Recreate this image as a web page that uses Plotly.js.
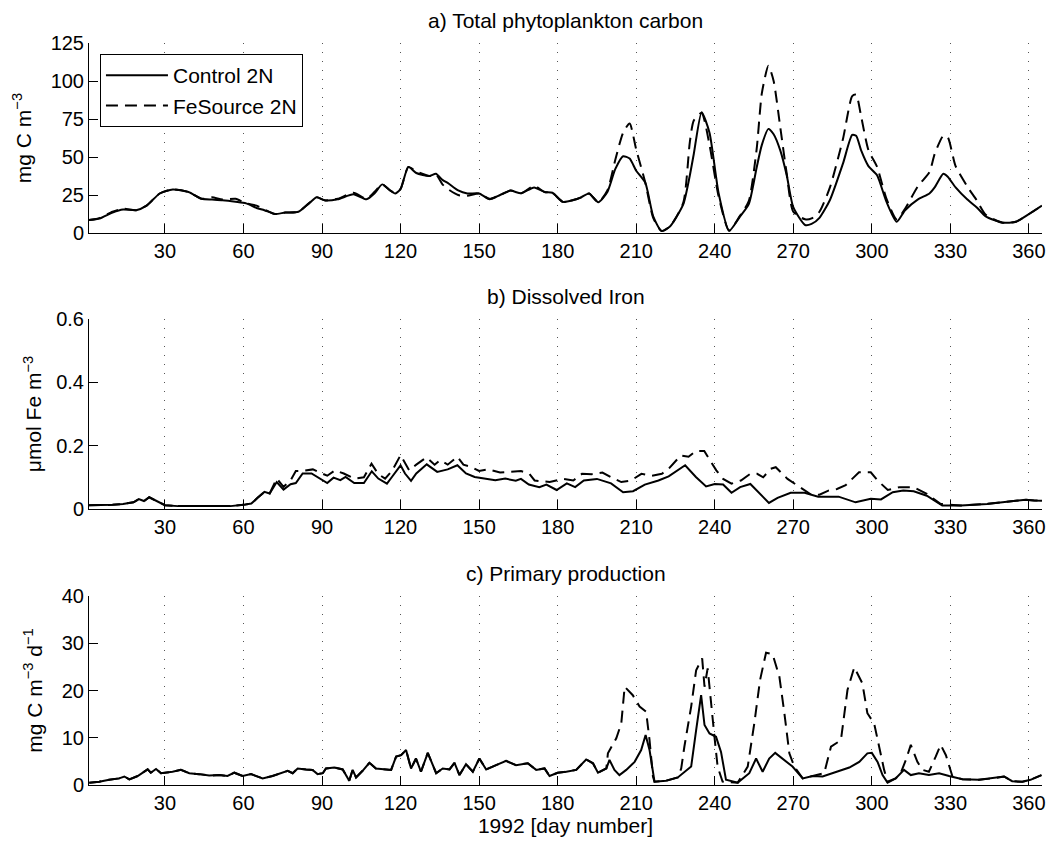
<!DOCTYPE html>
<html>
<head>
<meta charset="utf-8">
<script src="https://cdn.plot.ly/plotly-3.0.1.min.js"></script>
<style>html,body{margin:0;padding:0;background:#fff;}</style>
</head>
<body>
<div id="chart" style="width:1053px;height:845px;"></div>
<script>
// ---------- Panel a: Total phytoplankton carbon (mg C m-3) ----------
const dayA = [1,5,10,14,19,23,28,33,39,44,48,52,57,61,65,68,72,76,81,85,88,91,96,102,107,110,113,116,118,120,123,126,131,133.5,136,138,142,145.5,150,154,158,162,166,171,175,178,182,186,189,192,195.5,199,202,205,207.5,210,213.5,216.5,219.7,223,228,230.5,232,235,238,241.5,245.5,249.5,253,256,258,260.5,262.5,265,267.5,270,274.5,277,280,284,289,292.5,294,296,298.7,302,305.5,309.5,312.7,317.5,322,324,327.3,329,332,336.5,340,343.5,350,355,360.5,365];
const ctrlA = [8.5,9.5,13.5,15.5,15,18,26,28.7,27,22.5,22,21.5,20.5,19.5,16.5,15,12.5,13.5,14,19.5,23.5,21.5,22.2,25.5,22.2,26,32,28,26,29,43.5,39.5,37.5,39,35,33,28,26,26,22.2,25,27.9,26.1,30,27,26.5,20.5,21.7,23.5,26,20.3,27,42,50.5,49,41,33,11,1.3,4.5,19,38,52,79.5,66,26,1.5,10.5,19,43,58,68.5,65,54.5,38,17,5.3,6,10,21.7,45.8,64.5,64,54,44,38,21,7.4,15,22,26,30,39,37,30,22,17,11,6.8,7.4,13,18];
const feA = [8.5,9.8,14,16,15,18,26,28.7,27,22.5,23.5,22,22.5,19.5,18,15.5,12.5,13.5,14,19.5,23.5,21.5,22.5,26.5,22.5,27,32,28,26.5,29,43.5,40.5,37.5,38.5,32,29,25,24.5,26,22.5,25,27.9,26.1,31,27,26.5,20.5,21.7,23.5,26,20.3,28,48,66,72,55,33,10,1.3,4.5,20,60,74,79,58,24,1.5,11,21,55,92,110,100,70,39,14,9,9.6,14,30,62,90,91,76,54.6,43.6,23,9,16,30.5,40,52,64,63,44,30.5,21.7,12,6.8,7.4,13,18];

// ---------- Panel b: Dissolved iron (umol Fe m-3) ----------
const dayBctrl = [1,5,10,14,18,20,22,24,27,30,35,45,55,60,63,65.5,68,70,72.7,75.3,78,80,82.6,86,90,92,94.4,97,99,102.3,106,109,111.5,114.8,116.7,120,121.7,124,126,130,134,138,141.7,145,148.3,152.2,156.2,160,164,166,169,173,175.7,179.6,183.5,186.7,190,195,200.4,205,208.8,213.3,218.5,222.4,225.7,228.7,232.8,236.7,240,243.2,246.4,249.7,253.6,256.8,260.7,264,269,274.3,279.5,287.3,293.8,299.6,303.5,308,312,316,321,326.9,334,344,353.5,358.7,362,365];
const ctrlB = [0.012,0.012,0.013,0.016,0.021,0.031,0.025,0.037,0.025,0.012,0.009,0.008,0.009,0.013,0.017,0.036,0.054,0.049,0.085,0.061,0.078,0.082,0.112,0.112,0.091,0.082,0.099,0.091,0.101,0.082,0.082,0.119,0.096,0.080,0.101,0.138,0.112,0.089,0.112,0.141,0.117,0.125,0.138,0.112,0.101,0.096,0.091,0.096,0.089,0.095,0.077,0.069,0.077,0.060,0.081,0.069,0.090,0.095,0.081,0.053,0.056,0.077,0.090,0.103,0.122,0.138,0.101,0.071,0.079,0.077,0.051,0.069,0.079,0.053,0.019,0.035,0.051,0.051,0.039,0.039,0.021,0.032,0.030,0.053,0.058,0.056,0.042,0.011,0.011,0.016,0.024,0.029,0.027,0.026];
// FeSource: identical to control before day 70, then:
const dayBfeTail = [70,72.7,75.3,78,80,82.6,86.5,89.8,92,95,98.3,102.3,106,108.9,111.5,114.1,116.7,120,123.3,126,129.9,133,135.1,138,141.7,144,147,150,153.5,158,162.7,166,169.2,171.2,177,182.2,186,189.3,193,197.1,200.4,204.3,208,212,216,219.8,222.4,227,230,232.8,236,238,240.6,243.2,246.4,250,253.6,256.2,258.5,261.4,263.3,267.8,270.4,274,276.9,280,283.4,286.7,290,292.5,295.1,299.6,302.2,306.1,310.6,315.9,321,326.2,334,344,353.5,358.7,362,365];
const feBTail = [0.049,0.096,0.07,0.09,0.120,0.120,0.125,0.112,0.105,0.122,0.112,0.096,0.1,0.143,0.11,0.096,0.12,0.170,0.122,0.14,0.163,0.14,0.154,0.14,0.165,0.14,0.133,0.12,0.125,0.115,0.117,0.12,0.111,0.090,0.085,0.095,0.09,0.111,0.11,0.115,0.1,0.085,0.09,0.111,0.105,0.111,0.127,0.169,0.165,0.183,0.183,0.156,0.122,0.095,0.08,0.09,0.111,0.111,0.1,0.127,0.132,0.095,0.081,0.06,0.045,0.045,0.058,0.063,0.075,0.095,0.116,0.116,0.090,0.060,0.069,0.069,0.048,0.016,0.011,0.016,0.024,0.029,0.027,0.026];

// ---------- Panel c: Primary production (mg C m-3 d-1) ----------
const dayCctrl = [1.1,4.9,8.7,12.5,14.5,16.4,19.6,22.1,23.4,24.6,26.6,28.5,30.4,32.9,36.1,39.3,43.1,46.9,50.8,53.9,56.5,59.7,62.9,67.3,71.1,74.3,76.9,78.8,80.7,83.9,86.4,88.3,90.3,91.5,94.7,97.9,99.2,100.4,101.7,103,105.5,108.1,110.6,114.5,116.4,118.3,120.2,122.1,124,125.9,127.8,130.4,133.6,136.1,138.7,140.6,142.5,145,147.6,150.1,152.7,156.5,160.3,164.1,168.6,171.8,175,176.9,180,183.3,187.1,190.9,193.5,195.4,198.6,199.8,201.7,203.6,206.2,209.4,211.9,213.6,215.1,217,221.4,225.9,227.8,231,232.9,234.8,236.1,238,240.5,242.4,244.3,248.8,253.2,255.8,258.3,260.8,263.1,265.9,269.7,273.6,277.4,281.2,286.3,291.4,295.2,298.3,300,302.2,304.1,306,309.1,312.3,314.9,318,321.8,325.7,329.5,334.6,340.9,346,350.5,353.6,357.5,360.6,364.8];
const ctrlC = [0.5,0.7,1.1,1.4,1.8,1.2,1.9,2.8,3.3,2.6,3.4,2.5,2.6,2.8,3.2,2.5,2.3,2.0,2.1,1.9,2.6,1.9,2.3,1.4,1.9,2.6,3.0,2.5,3.5,3.3,3.2,2.3,2.5,3.5,3.7,3.3,2.1,0.9,3.2,1.6,3.0,4.7,3.5,3.3,3.2,6.0,6.3,7.4,3.5,5.6,2.8,6.8,2.5,3.5,3.3,4.7,2.1,4.4,2.8,5.6,3.3,4.2,5.1,4.2,4.6,3.2,3.5,1.9,2.6,2.8,3.2,5.4,4.6,2.6,3.5,5.3,3.2,2.1,3.2,4.9,7.4,10.6,7.4,0.7,0.9,1.6,2.5,3.9,11.6,19.0,12.7,10.9,10.2,7.0,1.1,0.5,2.5,5.6,2.8,5.6,6.8,5.6,3.9,1.4,1.9,1.8,2.8,3.7,4.9,6.7,6.8,4.9,2.1,0.5,1.4,3.2,2.1,2.5,2.1,2.5,1.9,1.2,1.1,1.4,1.8,0.8,0.7,1.1,2.1];
// FeSource: identical to control before day 198.6, then:
const dayCfeTail = [198.6,199.2,202.4,204.3,205.6,208.7,211.3,213.8,215.1,216.4,217,221.4,225.9,227.2,228.4,231,232.9,235.2,236.1,237.3,238.6,239.9,241.1,243,244.3,248.8,252.6,255.1,257.3,259.6,262.1,264.7,266.6,268.5,270.4,273.6,277.4,281.8,284.4,288.2,290.7,293.3,296.4,298.3,300.9,302.8,304.7,306,309.1,311,313,314.9,317.4,319.4,321.8,324.4,326.3,328.3,329.5,330.8,334.6,340.9,346,350.5,353.6,357.5,360.6,364.8];
const feCTail = [3.5,6.7,9.9,13.0,20.8,19.0,16.6,15.5,9.5,1.8,0.7,0.9,1.6,3.5,8.1,16.6,24.3,26.8,20.8,24.7,16.6,10.2,3.9,0.7,0.6,0.5,3.9,13.0,22.2,28.0,27.7,22.9,15.2,6.7,3.9,1.4,1.9,2.5,8.1,9.5,20.1,24.9,21.5,15.2,13.0,8.1,3.2,0.7,1.4,2.5,5.3,8.5,4.9,3.2,2.8,6.0,8.5,6.3,3.9,1.8,1.2,1.1,1.4,1.8,0.8,0.7,1.1,2.1];

const xTicks = [30,60,90,120,150,180,210,240,270,300,330,360];
const seriesNames = ['Control 2N','FeSource 2N'];
const panelTitles = ['a) Total phytoplankton carbon','b) Dissolved Iron','c) Primary production'];

// Build full FeSource series (shared with control before divergence)
function prefix(days, vals, limit){
  const n = days.findIndex(d => d >= limit);
  return [days.slice(0,n), vals.slice(0,n)];
}
const [pbD, pbV] = prefix(dayBctrl, ctrlB, dayBfeTail[0]);
const dayBfe = pbD.concat(dayBfeTail), feB = pbV.concat(feBTail);
const [pcD, pcV] = prefix(dayCctrl, ctrlC, dayCfeTail[0]);
const dayCfe = pcD.concat(dayCfeTail), feC = pcV.concat(feCTail);

const solid = {color:'#000', width:2, dash:'solid'};
const dashed = {color:'#000', width:2, dash:'12px,7px'};
const FONT = 'Liberation Sans, Arial, Helvetica, sans-serif';
const TXT = 21;

const traces = [
  {x:dayA, y:ctrlA, xaxis:'x', yaxis:'y', name:seriesNames[0], mode:'lines', line:Object.assign({shape:'spline', smoothing:0.6}, solid), showlegend:true},
  {x:dayA, y:feA, xaxis:'x', yaxis:'y', name:seriesNames[1], mode:'lines', line:Object.assign({shape:'spline', smoothing:0.6}, dashed), showlegend:true},
  {x:dayBctrl, y:ctrlB, xaxis:'x2', yaxis:'y2', name:seriesNames[0], mode:'lines', line:solid, showlegend:false},
  {x:dayBfe, y:feB, xaxis:'x2', yaxis:'y2', name:seriesNames[1], mode:'lines', line:dashed, showlegend:false},
  {x:dayCctrl, y:ctrlC, xaxis:'x3', yaxis:'y3', name:seriesNames[0], mode:'lines', line:solid, showlegend:false},
  {x:dayCfe, y:feC, xaxis:'x3', yaxis:'y3', name:seriesNames[1], mode:'lines', line:dashed, showlegend:false}
];

function xax(anchor, extra){
  return Object.assign({
    anchor:anchor, domain:[0,1], range:[1,365], tickmode:'array', tickvals:xTicks,
    ticks:'inside', ticklen:9, tickwidth:1, tickcolor:'#000',
    showline:true, linecolor:'#000', linewidth:1, mirror:false,
    showgrid:true, gridcolor:'#555', griddash:'1px,8px', gridwidth:1,
    zeroline:false, tickfont:{size:20, color:'#000', family:FONT}, fixedrange:true
  }, extra||{});
}
function yax(anchor, domain, range, tickvals, title, standoff){
  return {
    anchor:anchor, domain:domain, range:range, tickmode:'array', tickvals:tickvals,
    ticks:'inside', ticklen:9, tickwidth:1, tickcolor:'#000',
    showline:true, linecolor:'#000', linewidth:1, mirror:false,
    showgrid:false, zeroline:false, tickfont:{size:20, color:'#000', family:FONT},
    title:{text:title, font:{size:TXT, color:'#000', family:FONT}, standoff:standoff},
    fixedrange:true
  };
}

const domA = [0.7439, 1], domB = [0.372, 0.628], domC = [0, 0.2547];

const layout = {
  width:1053, height:845,
  margin:{l:89, r:11, t:43, b:60},
  paper_bgcolor:'#fff', plot_bgcolor:'#fff',
  font:{family:FONT, size:20, color:'#000'},
  showlegend:true,
  legend:{x:0.0115, y:0.985, xanchor:'left', yanchor:'top', bgcolor:'#fff',
          bordercolor:'#000', borderwidth:1, font:{size:TXT, family:FONT, color:'#000'},
          tracegroupgap:0, itemwidth:62},
  xaxis: xax('y'),
  xaxis2: xax('y2'),
  xaxis3: xax('y3', {title:{text:'1992 [day number]', font:{size:TXT, color:'#000', family:FONT}, standoff:5}}),
  yaxis: yax('x', domA, [0,125], [0,25,50,75,100,125], 'mg C m<sup>−3</sup>', 13),
  yaxis2: yax('x2', domB, [0,0.6], [0,0.2,0.4,0.6], 'μmol Fe m<sup>−3</sup>', 8),
  yaxis3: yax('x3', domC, [0,40], [0,10,20,30,40], 'mg C m<sup>−3</sup> d<sup>−1</sup>', 13),
  annotations: [
    {text:panelTitles[0], xref:'paper', yref:'paper', x:0.5, y:domA[1], xanchor:'center', yanchor:'bottom', yshift:9, showarrow:false, font:{size:TXT, family:FONT, color:'#000'}},
    {text:panelTitles[1], xref:'paper', yref:'paper', x:0.5, y:domB[1], xanchor:'center', yanchor:'bottom', yshift:9, showarrow:false, font:{size:TXT, family:FONT, color:'#000'}},
    {text:panelTitles[2], xref:'paper', yref:'paper', x:0.5, y:domC[1], xanchor:'center', yanchor:'bottom', yshift:9, showarrow:false, font:{size:TXT, family:FONT, color:'#000'}}
  ]
};

Plotly.newPlot('chart', traces, layout, {displayModeBar:false, staticPlot:true});
</script>
</body>
</html>
